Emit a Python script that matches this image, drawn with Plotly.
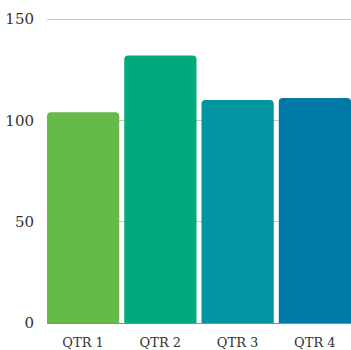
import plotly.graph_objects as go

# Quarterly totals
quarters = ["QTR 1", "QTR 2", "QTR 3", "QTR 4"]
values = [104, 132, 110, 111]
bar_colors = ["#65BA4A", "#00AA7C", "#0095A0", "#0079A6"]
y_ticks = [0, 50, 100, 150]

bargap = 0.065

fig = go.Figure(
    go.Bar(
        x=quarters,
        y=values,
        marker=dict(color=bar_colors, line=dict(width=0)),
        hoverinfo="x+y",
    )
)

fig.update_layout(
    width=351,
    height=350,
    margin=dict(l=47, r=0, t=18, b=27),
    paper_bgcolor="white",
    plot_bgcolor="white",
    bargap=bargap,
    barcornerradius=4,
    showlegend=False,
    font=dict(family="DejaVu Serif, serif", color="#333333"),
)

fig.update_xaxes(
    range=[-0.5 + bargap / 2, len(quarters) - 0.5 - bargap / 2],
    showgrid=False,
    showline=False,
    ticks="",
    tickfont=dict(size=13),
    ticklabelstandoff=10,
    zeroline=False,
)

fig.update_yaxes(
    range=[0, 150.5],
    tickvals=y_ticks,
    showgrid=True,
    gridcolor="#c8c8c8",
    gridwidth=1,
    zeroline=True,
    zerolinecolor="#8c8c8c",
    zerolinewidth=1,
    showline=False,
    ticks="",
    ticklabelstandoff=12,
    tickfont=dict(size=15),
)

fig.write_html("out.html")
